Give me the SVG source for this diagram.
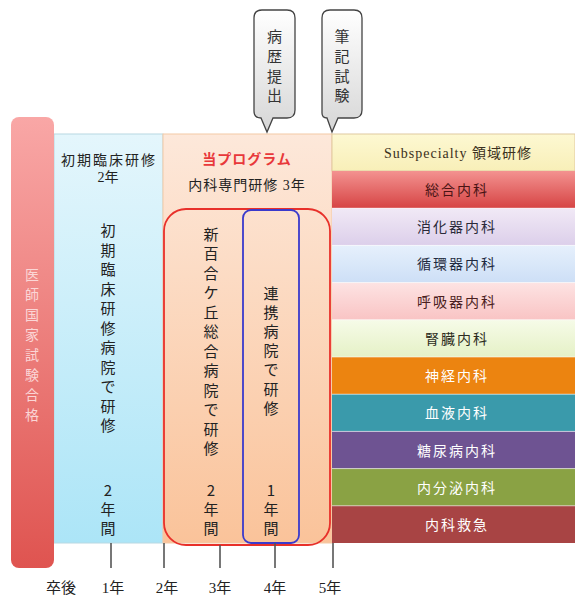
<svg xmlns="http://www.w3.org/2000/svg" width="575" height="599" viewBox="0 0 575 599">
<defs>
<linearGradient id="gRed" x1="0" y1="0" x2="0" y2="1"><stop offset="0" stop-color="#f9a7a6"/><stop offset="1" stop-color="#df5450"/></linearGradient>
<linearGradient id="gBlue" x1="0" y1="0" x2="0" y2="1"><stop offset="0" stop-color="#e4f6fc"/><stop offset="1" stop-color="#ace5f7"/></linearGradient>
<linearGradient id="gOrange" x1="0" y1="0" x2="0" y2="1"><stop offset="0" stop-color="#fde8da"/><stop offset="1" stop-color="#fac39a"/></linearGradient>
<linearGradient id="gBubble" x1="0" y1="0" x2="0" y2="1"><stop offset="0" stop-color="#ffffff"/><stop offset="1" stop-color="#d6d6d6"/></linearGradient>
<linearGradient id="r0" x1="0" y1="0" x2="0" y2="1"><stop offset="0" stop-color="#fdf8d2"/><stop offset="1" stop-color="#f8efb8"/></linearGradient>
<linearGradient id="r1" x1="0" y1="0" x2="0" y2="1"><stop offset="0" stop-color="#f39290"/><stop offset="1" stop-color="#d64444"/></linearGradient>
<linearGradient id="r2" x1="0" y1="0" x2="0" y2="1"><stop offset="0" stop-color="#f1e9f6"/><stop offset="1" stop-color="#dccfea"/></linearGradient>
<linearGradient id="r3" x1="0" y1="0" x2="0" y2="1"><stop offset="0" stop-color="#e6f0fc"/><stop offset="1" stop-color="#cddff6"/></linearGradient>
<linearGradient id="r4" x1="0" y1="0" x2="0" y2="1"><stop offset="0" stop-color="#fde3e3"/><stop offset="1" stop-color="#f9c4c4"/></linearGradient>
<linearGradient id="r5" x1="0" y1="0" x2="0" y2="1"><stop offset="0" stop-color="#f6fbe8"/><stop offset="1" stop-color="#e5f1c6"/></linearGradient>
</defs>
<style>
text{font-family:"Noto Sans CJK JP","Noto Sans",sans-serif;fill:#222}
.ser{font-family:"Liberation Serif","Noto Sans CJK JP",serif}
.v{font-size:15px;text-anchor:middle}
.hd{font-size:14px;text-anchor:middle;letter-spacing:2px}
.row{font-size:14px;text-anchor:middle;letter-spacing:2px}
.wt{fill:#ffffff}
.ax{font-size:15px;text-anchor:middle;fill:#222}
.tick{stroke:#555;stroke-width:1.6}
.bub{fill:url(#gBubble);stroke:#444;stroke-width:1.3}
</style>

<g id="panel-blue">
<rect x="54" y="134" width="109" height="409" fill="url(#gBlue)" stroke="#b8d8e2" stroke-width="1"/>
<text class="hd ser" x="109" y="165">初期臨床研修</text>
<text class="ser" x="108" y="182" font-size="14" text-anchor="middle">2年</text>
<text class="v"><tspan x="108" y="236">初</tspan><tspan x="108" y="255.5">期</tspan><tspan x="108" y="275">臨</tspan><tspan x="108" y="294.5">床</tspan><tspan x="108" y="314">研</tspan><tspan x="108" y="333.5">修</tspan><tspan x="108" y="353">病</tspan><tspan x="108" y="372.5">院</tspan><tspan x="108" y="392">で</tspan><tspan x="108" y="411.5">研</tspan><tspan x="108" y="431">修</tspan><tspan x="108" y="496">2</tspan><tspan x="108" y="515">年</tspan><tspan x="108" y="534">間</tspan></text>
</g>

<g id="panel-orange">
<rect x="163" y="134" width="169" height="409" fill="url(#gOrange)" stroke="#f3c9a6" stroke-width="1"/>
<text x="247" y="164" font-size="14" font-weight="bold" text-anchor="middle" style="fill:#e8383a;letter-spacing:1px">当プログラム</text>
<text class="ser" x="247" y="190" font-size="14" text-anchor="middle" letter-spacing="1">内科専門研修 3年</text>
</g>

<g id="main-hospital">
<rect x="164" y="209" width="166" height="336" rx="22" fill="none" stroke="#e8302a" stroke-width="1.8"/>
<text class="v"><tspan x="211" y="239.5">新</tspan><tspan x="211" y="259">百</tspan><tspan x="211" y="278.5">合</tspan><tspan x="211" y="298">ケ</tspan><tspan x="211" y="317.5">丘</tspan><tspan x="211" y="337">総</tspan><tspan x="211" y="356.5">合</tspan><tspan x="211" y="376">病</tspan><tspan x="211" y="395.5">院</tspan><tspan x="211" y="415">で</tspan><tspan x="211" y="434.5">研</tspan><tspan x="211" y="454">修</tspan><tspan x="211" y="496">2</tspan><tspan x="211" y="515">年</tspan><tspan x="211" y="534">間</tspan></text>
</g>

<g id="partner-hospital">
<rect x="243" y="210" width="56" height="333" rx="8" fill="none" stroke="#3a3acc" stroke-width="1.8"/>
<text class="v"><tspan x="271" y="298.5">連</tspan><tspan x="271" y="317.7">携</tspan><tspan x="271" y="336.9">病</tspan><tspan x="271" y="356.1">院</tspan><tspan x="271" y="375.3">で</tspan><tspan x="271" y="394.5">研</tspan><tspan x="271" y="413.7">修</tspan><tspan x="271" y="496">1</tspan><tspan x="271" y="515">年</tspan><tspan x="271" y="534">間</tspan></text>
</g>

<g id="license-bar">
<rect x="11" y="117" width="43" height="451" rx="8" fill="url(#gRed)"/>
<text text-anchor="middle" font-size="14" style="fill:#fbd6d6"><tspan x="32" y="280">医</tspan><tspan x="32" y="300">師</tspan><tspan x="32" y="320">国</tspan><tspan x="32" y="340">家</tspan><tspan x="32" y="360">試</tspan><tspan x="32" y="380">験</tspan><tspan x="32" y="400">合</tspan><tspan x="32" y="420">格</tspan></text>
</g>

<g id="subspecialty">
<g id="row-header"><rect x="332" y="134" width="243" height="37" fill="url(#r0)" stroke="#e0c9a0" stroke-width="1"/><text class="ser" x="458" y="158" font-size="14" text-anchor="middle" letter-spacing="1" style="fill:#3a3020">Subspecialty 領域研修</text></g>
<g id="row-sogo"><rect x="332" y="171" width="243" height="37.2" fill="url(#r1)"/><text class="row" x="457" y="195" style="fill:#4a1414">総合内科</text></g>
<g id="row-shoka"><rect x="332" y="208.2" width="243" height="37.2" fill="url(#r2)"/><text class="row" x="457" y="232" style="fill:#2a2a3a">消化器内科</text></g>
<g id="row-junkan"><rect x="332" y="245.4" width="243" height="37.2" fill="url(#r3)"/><text class="row" x="457" y="269" style="fill:#1e2a40">循環器内科</text></g>
<g id="row-kokyu"><rect x="332" y="282.6" width="243" height="37.2" fill="url(#r4)"/><text class="row" x="457" y="306.5" style="fill:#4a2020">呼吸器内科</text></g>
<g id="row-jinzo"><rect x="332" y="319.8" width="243" height="37.2" fill="url(#r5)"/><text class="row" x="457" y="344" style="fill:#2c2c20">腎臓内科</text></g>
<g id="row-shinkei"><rect x="332" y="357" width="243" height="37.2" fill="#ec8410"/><text class="row wt" x="457" y="381">神経内科</text></g>
<g id="row-ketsueki"><rect x="332" y="394.2" width="243" height="37.2" fill="#3a9aab"/><text class="row wt" x="457" y="418">血液内科</text></g>
<g id="row-tonyo"><rect x="332" y="431.4" width="243" height="37.2" fill="#6e5392"/><text class="row wt" x="457" y="455.5">糖尿病内科</text></g>
<g id="row-naibunpi"><rect x="332" y="468.6" width="243" height="37.2" fill="#8aa244"/><text class="row wt" x="457" y="492.5">内分泌内科</text></g>
<g id="row-kyukyu"><rect x="332" y="505.8" width="243" height="37.2" fill="#a84444"/><text class="row wt" x="457" y="530">内科救急</text></g>
<g stroke="#ffffff" stroke-opacity="0.55" stroke-width="1"><line x1="332" y1="208.2" x2="575" y2="208.2"/><line x1="332" y1="245.4" x2="575" y2="245.4"/><line x1="332" y1="282.6" x2="575" y2="282.6"/><line x1="332" y1="319.8" x2="575" y2="319.8"/><line x1="332" y1="357" x2="575" y2="357"/><line x1="332" y1="394.2" x2="575" y2="394.2"/><line x1="332" y1="431.4" x2="575" y2="431.4"/><line x1="332" y1="468.6" x2="575" y2="468.6"/><line x1="332" y1="505.8" x2="575" y2="505.8"/></g>
</g>

<g id="callout-history">
<path class="bub" d="M262,10 H287 Q295,10 295,18 V110 Q295,118 287,118 H273 L267,132 L261,118 Q254,118 254,111 V18 Q254,10 262,10 Z"/>
<text class="v" font-size="14" style="fill:#333"><tspan x="274.5" y="42">病</tspan><tspan x="274.5" y="62">歴</tspan><tspan x="274.5" y="82">提</tspan><tspan x="274.5" y="101">出</tspan></text>
</g>
<g id="callout-exam">
<path class="bub" d="M330,10 H354 Q362,10 362,18 V110 Q362,118 354,118 H338 L332,132 L327,118 Q322,118 322,113 V18 Q322,10 330,10 Z"/>
<text class="v" font-size="14" style="fill:#333"><tspan x="342" y="42">筆</tspan><tspan x="342" y="62">記</tspan><tspan x="342" y="82">試</tspan><tspan x="342" y="101">験</tspan></text>
</g>

<g id="connectors">
<line class="tick" x1="111" y1="543" x2="111" y2="568"/>
<line class="tick" x1="164" y1="543" x2="164" y2="568"/>
<line class="tick" x1="220" y1="545" x2="220" y2="568"/>
<line class="tick" x1="275" y1="543" x2="275" y2="568"/>
<line class="tick" x1="333" y1="543" x2="333" y2="568"/>
</g>

<g id="axis-labels">
<text class="ax ser" x="61" y="593">卒後</text>
<text class="ax ser" x="113" y="593">1年</text>
<text class="ax ser" x="167" y="593">2年</text>
<text class="ax ser" x="220" y="593">3年</text>
<text class="ax ser" x="275" y="593">4年</text>
<text class="ax ser" x="330" y="593">5年</text>
</g>
</svg>
